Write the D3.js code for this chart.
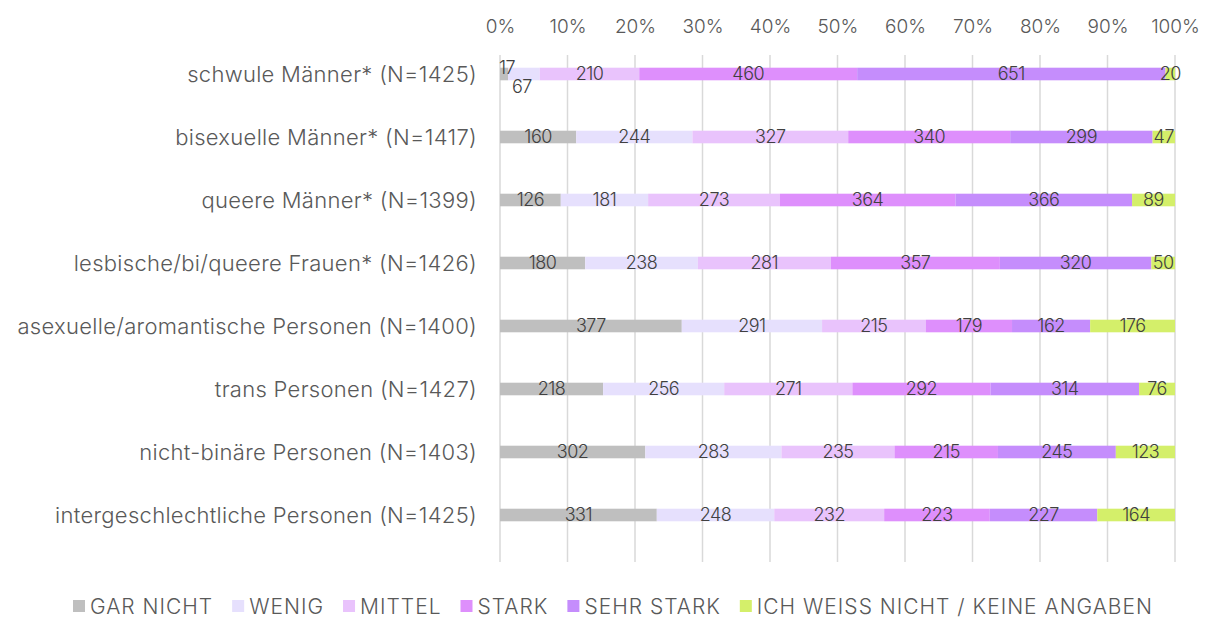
<!DOCTYPE html>
<html>
<head>
<meta charset="utf-8">
<script src="https://cdn.jsdelivr.net/npm/d3@7"></script>
<style>
  body { margin: 0; background: #fff; }
  text { font-family: "Inter", "Noto Sans", sans-serif; }
</style>
</head>
<body>
<script>
// Categories (rows) and answer levels
var categories = [
  "schwule Männer* (N=1425)",
  "bisexuelle Männer* (N=1417)",
  "queere Männer* (N=1399)",
  "lesbische/bi/queere Frauen* (N=1426)",
  "asexuelle/aromantische Personen (N=1400)",
  "trans Personen (N=1427)",
  "nicht-binäre Personen (N=1403)",
  "intergeschlechtliche Personen (N=1425)"
];
var levels = ["GAR NICHT", "WENIG", "MITTEL", "STARK", "SEHR STARK", "ICH WEISS NICHT / KEINE ANGABEN"];

// counts per level, one array per level, in row order
var garNicht   = [17, 160, 126, 180, 377, 218, 302, 331];
var wenig      = [67, 244, 181, 238, 291, 256, 283, 248];
var mittel     = [210, 327, 273, 281, 215, 271, 235, 232];
var stark      = [460, 340, 364, 357, 179, 292, 215, 223];
var sehrStark  = [651, 299, 366, 320, 162, 314, 245, 227];
var weissNicht = [20, 47, 89, 50, 176, 76, 123, 164];

var tickValues = [0, 0.1, 0.2, 0.3, 0.4, 0.5, 0.6, 0.7, 0.8, 0.9, 1];
var colors = ["#bfbfbf", "#e6e0fd", "#e9c3fc", "#de8ffc", "#c58dfc", "#d4ef6a"];

var svgWidth = 1210;
var svgHeight = 621;

var svg = d3.select("body")
  .append("svg")
  .attr("width", svgWidth)
  .attr("height", svgHeight);

// build rows for the stack
var series = [garNicht, wenig, mittel, stark, sehrStark, weissNicht];
var rows = categories.map(function(cat, i) {
  var row = { category: cat };
  var total = 0;
  levels.forEach(function(l, j) { row[l] = series[j][i]; total += series[j][i]; });
  row.total = total;
  return row;
});

var xScale = d3.scaleLinear().domain([0, 1]).range([500, 1175]);
var yScale = d3.scaleBand()
  .domain(categories)
  .range([42.5, 546.5])
  .paddingInner(0.8)
  .paddingOuter(0.4);

// gridlines + top axis
var topAxis = d3.axisTop(xScale)
  .tickValues(tickValues)
  .tickFormat(d3.format(".0%"))
  .tickSize(0);

svg.append("g")
  .selectAll("line")
  .data(tickValues)
  .join("line")
  .attr("x1", d => xScale(d))
  .attr("x2", d => xScale(d))
  .attr("y1", 55)
  .attr("y2", 562)
  .attr("stroke", "#d9d9d9")
  .attr("stroke-width", 1.5);

svg.append("g")
  .attr("transform", "translate(0, 36)")
  .call(topAxis)
  .call(g => g.select(".domain").remove())
  .call(g => g.selectAll("text")
    .attr("fill", "#595959")
    .style("font-size", "19px")
    .style("font-weight", "300")
    .style("font-family", "Inter, sans-serif"));

// stacked, normalised
var stack = d3.stack().keys(levels);
var stacked = stack(rows);

var layers = svg.append("g")
  .selectAll("g")
  .data(stacked)
  .join("g")
  .attr("fill", (d, i) => colors[i]);

layers.selectAll("rect")
  .data(d => d)
  .join("rect")
  .attr("x", d => xScale(d[0] / d.data.total))
  .attr("width", d => xScale(d[1] / d.data.total) - xScale(d[0] / d.data.total))
  .attr("y", d => yScale(d.data.category))
  .attr("height", yScale.bandwidth());

// value labels
stacked.forEach(function(layer, li) {
  layer.forEach(function(d, ri) {
    var w = xScale(d[1] / d.data.total) - xScale(d[0] / d.data.total);
    var dy = 0;
    var cx = xScale((d[0] + d[1]) / 2 / d.data.total);
    // very small first segments get lifted, following one pushed down
    if (li === 0 && w < 12) { dy = -6; cx += 3; }
    if (li === 1) {
      var prev = stacked[0][ri];
      var pw = xScale(prev[1] / prev.data.total) - xScale(prev[0] / prev.data.total);
      if (pw < 12) { dy = 13; cx -= 2; }
    }
    svg.append("text")
      .attr("x", cx)
      .attr("y", yScale(d.data.category) + yScale.bandwidth() / 2 + dy)
      .attr("dy", "0.36em")
      .attr("text-anchor", "middle")
      .attr("fill", "#404040")
      .style("font-size", "18px")
      .style("font-weight", "300")
      .style("letter-spacing", "-0.5px")
      .text(d.data[levels[li]]);
  });
});

// category labels
svg.append("g")
  .selectAll("text")
  .data(categories)
  .join("text")
  .attr("x", 477)
  .attr("y", d => yScale(d) + yScale.bandwidth() / 2)
  .attr("dy", "0.36em")
  .attr("text-anchor", "end")
  .attr("fill", "#595959")
  .style("font-size", "22px")
  .style("font-weight", "300")
  .style("letter-spacing", "0.3px")
  .text(d => d);

// legend
var legend = svg.append("g").attr("transform", "translate(0, 606)");
var lx = 73;
levels.forEach(function(l, i) {
  legend.append("rect")
    .attr("x", lx)
    .attr("y", -6)
    .attr("width", 12)
    .attr("height", 12)
    .attr("fill", colors[i]);
  var t = legend.append("text")
    .attr("x", lx + 17)
    .attr("y", 0)
    .attr("dy", "0.36em")
    .attr("fill", "#595959")
    .style("font-size", "21px")
    .style("font-weight", "300")
    .style("letter-spacing", "1px")
    .text(l);
  lx += 17 + t.node().getComputedTextLength() + 19;
});
</script>
</body>
</html>
